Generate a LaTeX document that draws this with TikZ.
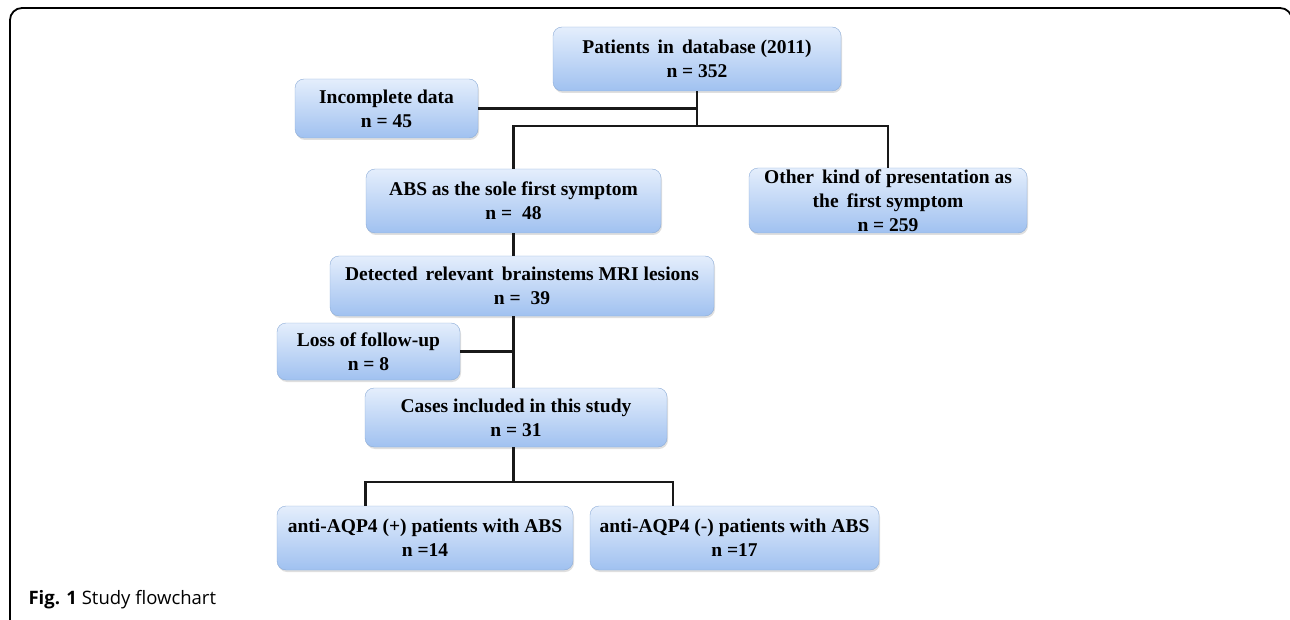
\documentclass[tikz,border=0pt]{standalone}
\usepackage{fontspec}
\setmainfont{Liberation Serif}
\newfontfamily\capfont{Open Sans}
\usetikzlibrary{positioning,calc,shadows}
\definecolor{boxtop}{RGB}{228,238,252}
\definecolor{boxbot}{RGB}{160,193,240}
\definecolor{boxline}{RGB}{140,172,215}

\begin{document}
\begin{tikzpicture}[x=1pt,y=-1pt,font=\bfseries\fontsize{19.5}{24}\selectfont]
\tikzset{
  box/.style={draw=boxline,rounded corners=9pt,align=center,inner sep=1pt,top color=boxtop,bottom color=boxbot,drop shadow={shadow xshift=1pt,shadow yshift=-2pt,opacity=0.25}},
  conn/.style={line width=2.6pt,draw=black!90}
}
\useasboundingbox (0,0) rectangle (1290,620);
\draw[line width=1.8pt,rounded corners=12pt](10,8) rectangle (1292,632);
\node(cap)[anchor=base west,font=\capfont\mdseries\fontsize{18.5}{20}\selectfont] at (25,604){\textbf{Fig. 1} Study flowchart};
\node(pat)[box,minimum width=288pt,minimum height=64pt] at (697,59){Patients\, in\, database (2011)\\n = 352};
\node(inc)[box,minimum width=183pt,minimum height=59pt] at (386.5,108.5){Incomplete data\\n = 45};
\node(abs)[box,minimum width=295pt,minimum height=64pt] at (513.5,201){ABS as the sole first symptom\\n = \ 48};
\node(oth)[box,minimum width=278pt,minimum height=65pt] at (888,200.5){Other\, kind of presentation as\\the\, first symptom\\n = 259};
\node(det)[box,minimum width=384pt,minimum height=60pt] at (522,286){Detected\, relevant\, brainstems MRI lesions\\n = \ 39};
\node(los)[box,minimum width=183pt,minimum height=57pt] at (368.5,351.5){Loss of follow-up\\n = 8};
\node(cas)[box,minimum width=302pt,minimum height=59pt] at (516,417.5){Cases included in this study\\n = 31};
\node(pos)[box,minimum width=296pt,minimum height=64pt] at (425,538){anti-AQP4 (+) patients with ABS\\n =14};
\node(neg)[box,minimum width=289pt,minimum height=64pt] at (734.5,538){anti-AQP4 (-) patients with ABS\\n =17};
\coordinate(j1) at (697,126);
\coordinate(j2) at (513.5,482);
\draw[conn](pat.south)--(j1); \draw[conn](inc.east)--(inc.east-|j1);
\draw[conn](abs.north)|-(j1)-|(oth.north);
\draw[conn](abs.south)--(abs.south|-det.north);
\draw[conn](abs.south|-det.south)--(abs.south|-cas.north); \draw[conn](los.east)--(los.east-|abs.south);
\draw[conn](abs.south|-cas.south)--(j2);
\draw[conn]($(pos.north west)!0.3!(pos.north east)$)|-(j2)-|($(neg.north west)!0.287!(neg.north east)$);
\end{tikzpicture}
\end{document}
